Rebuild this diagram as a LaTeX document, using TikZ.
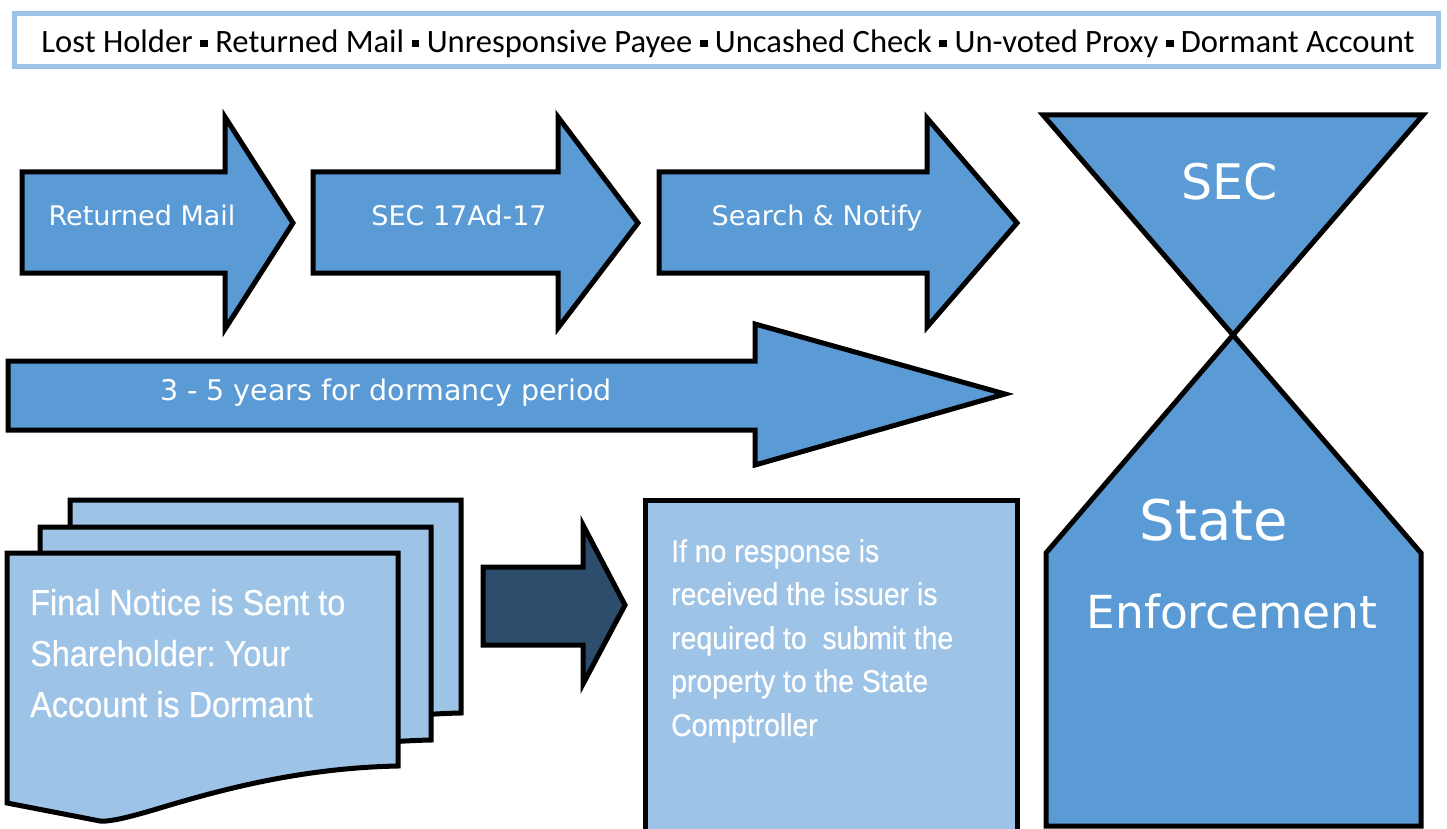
\documentclass[tikz,border=0pt]{standalone}
\usepackage{fontspec}
\setmainfont{DejaVu Sans}
\newfontfamily\bannerfont{Carlito}
\newfontfamily\arrowfont{DejaVu Sans}
\newfontfamily\narrowfont{Liberation Sans}[FakeStretch=0.9,FakeBold=0.4]
\definecolor{midblue}{HTML}{5B9BD5}
\definecolor{lightblue}{HTML}{9DC3E6}
\definecolor{darkblue}{HTML}{2C4D6B}
\newcommand{\sqb}{\raisebox{0.17em}{\rule{0.24em}{0.24em}}}
\frenchspacing
\tikzset{
  blueshape/.style={fill=midblue, draw=black, line width=5pt, line join=miter},
  lightshape/.style={fill=lightblue, draw=black, line width=5pt, line join=miter},
  darkshape/.style={fill=darkblue, draw=black, line width=5pt, line join=miter},
  arrowtxt/.style={text=white, font=\arrowfont\fontsize{27}{27}\selectfont, anchor=base, inner sep=0pt},
  bigtxt/.style={text=white, anchor=base, inner sep=0pt},
  narrowtxt/.style={text=white, anchor=base west, inner sep=0pt},
}
\begin{document}
\begin{tikzpicture}[x=1pt,y=-1pt]
\clip (0,0) rectangle (1447,829);
\fill[white] (0,0) rectangle (1447,829);

% banner
\draw[draw=lightblue, line width=5pt, fill=white] (14,14) rectangle (1438,67);
\node[anchor=base, inner sep=0pt, font=\bannerfont\fontsize{32.6}{32.6}\selectfont] (banner) at (728,53)
  {Lost Holder \sqb{} Returned Mail \sqb{} Unresponsive Payee \sqb{} Uncashed Check \sqb{} Un-voted Proxy \sqb{} Dormant Account};

% top arrows
\draw[blueshape] (22,172) -- (225,172) -- (225,117) -- (293,223) -- (225,329) -- (225,273) -- (22,273) -- cycle;
\draw[blueshape] (313,172) -- (558,172) -- (558,117) -- (638,223) -- (558,328) -- (558,273) -- (313,273) -- cycle;
\draw[blueshape] (659,172) -- (927,172) -- (927,118) -- (1017,223) -- (927,327) -- (927,273) -- (659,273) -- cycle;
\node[arrowtxt] (t1) at (142,225) {Returned Mail};
\node[arrowtxt] (t2) at (459,225) {SEC 17Ad-17};
\node[arrowtxt] (t3) at (817,225) {Search \& Notify};

% long arrow
\draw[blueshape] (8,361) -- (755,361) -- (755,324) -- (1005,394) -- (755,465) -- (755,430) -- (8,430) -- cycle;
\node[arrowtxt, font=\arrowfont\fontsize{28.5}{28.5}\selectfont] (t4) at (386,400) {3 - 5 years for dormancy period};

% hourglass
\draw[blueshape] (1043,115) -- (1423,115) -- (1233,335) -- cycle;
\draw[blueshape] (1233,335) -- (1421,553) -- (1421,826) -- (1046,826) -- (1046,553) -- cycle;
\node[bigtxt, font=\arrowfont\fontsize{49}{49}\selectfont] (sec) at (1230,200) {SEC};
\node[bigtxt, font=\arrowfont\fontsize{56}{56}\selectfont] (state) at (1214,540) {State};
\node[bigtxt, font=\arrowfont\fontsize{45.5}{45.5}\selectfont] (enf) at (1232,628) {Enforcement};

% document stack
\foreach \dx/\dy in {63/-53, 33/-26, 0/0}{
  \begin{scope}[shift={(\dx,\dy)}]
    \draw[lightshape] (7,553) -- (398,553) -- (398,766)
      .. controls (300,768) and (220,790) .. (160,808)
      .. controls (130,817) and (110,822) .. (100,821)
      -- (7,803) -- cycle;
  \end{scope}
}
\node[narrowtxt, font=\narrowfont\fontsize{36}{36}\selectfont] (f1) at (30,615) {Final Notice is Sent to};
\node[narrowtxt, font=\narrowfont\fontsize{36}{36}\selectfont] (f2) at (30,666) {Shareholder: Your};
\node[narrowtxt, font=\narrowfont\fontsize{36}{36}\selectfont] (f3) at (30,717) {Account is Dormant};

% dark arrow
\draw[darkshape] (483,567) -- (583,567) -- (583,525) -- (625,605) -- (583,684) -- (583,645) -- (483,645) -- cycle;

% right box
\draw[lightshape] (645,500) rectangle (1017,860);
\node[narrowtxt, font=\narrowfont\fontsize{31.5}{31.5}\selectfont] (r1) at (671,562) {If no response is};
\node[narrowtxt, font=\narrowfont\fontsize{31.5}{31.5}\selectfont] (r2) at (671,605) {received the issuer is};
\node[narrowtxt, font=\narrowfont\fontsize{31.5}{31.5}\selectfont] (r3) at (671,649) {required to \ submit the};
\node[narrowtxt, font=\narrowfont\fontsize{31.5}{31.5}\selectfont] (r4) at (671,692) {property to the State};
\node[narrowtxt, font=\narrowfont\fontsize{31.5}{31.5}\selectfont] (r5) at (671,736) {Comptroller};
\end{tikzpicture}
\end{document}
